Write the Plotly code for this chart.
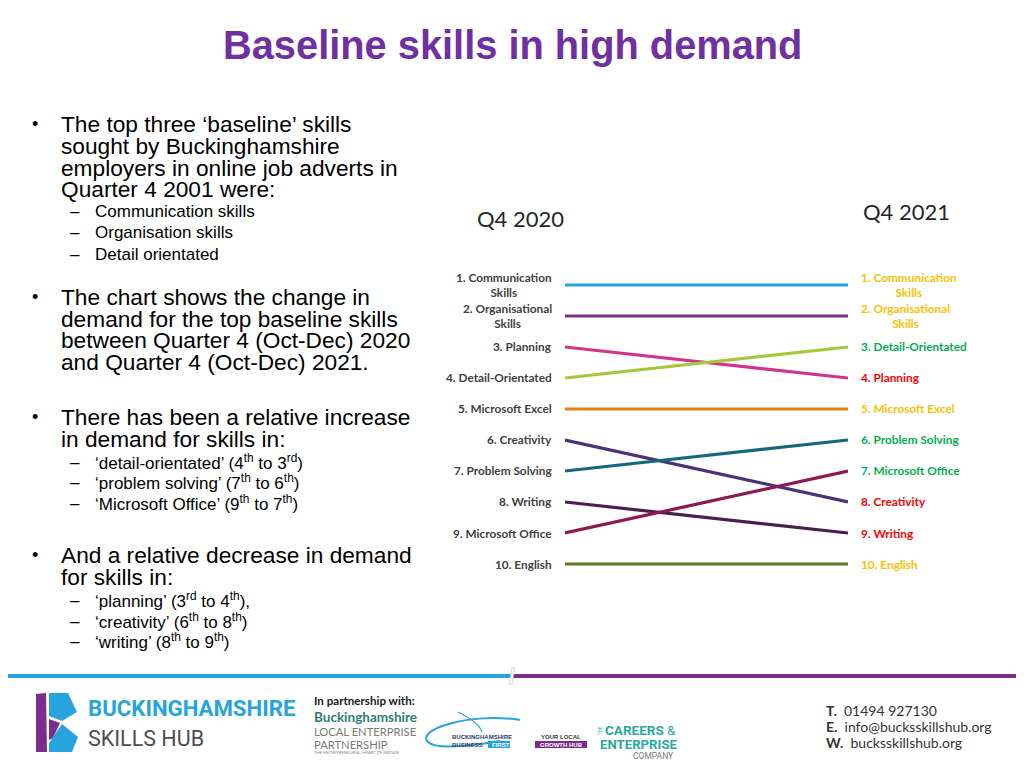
import plotly.graph_objects as go

# ---------------- data ----------------
skills = ["Communication Skills", "Organisational Skills", "Planning", "Detail-Orientated",
          "Microsoft Excel", "Creativity", "Problem Solving", "Writing",
          "Microsoft Office", "English"]
label_text = ["Communication<br>Skills", "Organisational<br>Skills", "Planning", "Detail-Orientated",
              "Microsoft Excel", "Creativity", "Problem Solving", "Writing",
              "Microsoft Office", "English"]
rank_2020 = [1, 2, 3, 4, 5, 6, 7, 8, 9, 10]
rank_2021 = [1, 2, 4, 3, 5, 8, 6, 9, 7, 10]
periods = ["Q4 2020", "Q4 2021"]
line_colors = ["#27A3DD", "#7B2C8C", "#D0348C", "#A3C83A", "#EE7D1B",
               "#4A3278", "#17667F", "#4A1E50", "#8A1A50", "#5E7A1E"]

# page body has an 8px margin, so the figure is sized to fit inside it
OFF = 8
W, H = 1024 - 2 * OFF, 768 - 2 * OFF
def px(x): return (x - OFF) / W
def py(y): return 1 - (y - OFF) / H

fig = go.Figure()

# slope lines
for name, r0, r1, c in zip(skills, rank_2020, rank_2021, line_colors):
    fig.add_trace(go.Scatter(x=[0, 1], y=[r0, r1], mode="lines", name=name,
                             line=dict(color=c, width=3.2), hoverinfo="name",
                             showlegend=False))

ann = []
LBL_FONT = "Lato"
LBL_SIZE = 11.8
# left labels (Q4 2020)
for lbl, r0 in zip(label_text, rank_2020):
    ann.append(dict(x=0, y=r0, xref="x", yref="y", text=f"<b>{r0}. {lbl}</b>",
                    xanchor="right", yanchor="middle", xshift=-11, align="center",
                    showarrow=False, font=dict(family=LBL_FONT, size=LBL_SIZE, color="#404040")))
# right labels (Q4 2021)
order_2021 = sorted(range(len(skills)), key=lambda i: rank_2021[i])
for i in order_2021:
    r0, r1 = rank_2020[i], rank_2021[i]
    col = "#FFC000" if r1 == r0 else ("#00B050" if r1 < r0 else "#FF0000")
    ann.append(dict(x=1, y=r1, xref="x", yref="y", text=f"<b>{r1}. {label_text[i]}</b>",
                    xanchor="left", yanchor="middle", xshift=11, align="center",
                    showarrow=False, font=dict(family=LBL_FONT, size=LBL_SIZE, color=col)))

# period headers
ann.append(dict(x=px(520), y=py(218), xref="paper", yref="paper", text=periods[0],
                showarrow=False, xanchor="center", yanchor="middle",
                font=dict(family=LBL_FONT, size=22, color="#262626")))
ann.append(dict(x=px(906), y=py(212), xref="paper", yref="paper", text=periods[1],
                showarrow=False, xanchor="center", yanchor="middle",
                font=dict(family=LBL_FONT, size=22, color="#262626")))

# title
ann.append(dict(x=px(512), y=py(45), xref="paper", yref="paper",
                text="<b>Baseline skills in high demand</b>", showarrow=False,
                xanchor="center", yanchor="middle",
                font=dict(family="Liberation Sans", size=39.8, color="#7030A0")))

# left text block
ARIAL = "Liberation Sans"
main_lines = [
    (124, "The top three ‘baseline’ skills", True),
    (146, "sought by Buckinghamshire", False),
    (168, "employers in online job adverts in", False),
    (189, "Quarter 4 2001 were:", False),
    (297, "The chart shows the change in", True),
    (319, "demand for the top baseline skills", False),
    (340, "between Quarter 4 (Oct-Dec) 2020", False),
    (362, "and Quarter 4 (Oct-Dec) 2021.", False),
    (417, "There has been a relative increase", True),
    (439, "in demand for skills in:", False),
    (555, "And a relative decrease in demand", True),
    (577, "for skills in:", False),
]
sub_lines = [
    (212, "Communication skills"),
    (233, "Organisation skills"),
    (254, "Detail orientated"),
    (462, "‘detail-orientated’ (4<sup>th</sup> to 3<sup>rd</sup>)"),
    (482, "‘problem solving’ (7<sup>th</sup> to 6<sup>th</sup>)"),
    (503, "‘Microsoft Office’ (9<sup>th</sup> to 7<sup>th</sup>)"),
    (600, "‘planning’ (3<sup>rd</sup> to 4<sup>th</sup>),"),
    (621, "‘creativity’ (6<sup>th</sup> to 8<sup>th</sup>)"),
    (641, "‘writing’ (8<sup>th</sup> to 9<sup>th</sup>)"),
]
for y, t, bullet in main_lines:
    ann.append(dict(x=px(59), y=py(y), xref="paper", yref="paper", text=t,
                    showarrow=False, xanchor="left", yanchor="middle",
                    font=dict(family=ARIAL, size=22.7, color="#000000")))
    if bullet:
        ann.append(dict(x=px(30), y=py(y), xref="paper", yref="paper", text="•",
                        showarrow=False, xanchor="left", yanchor="middle",
                        font=dict(family=ARIAL, size=18, color="#000000")))
for y, t in sub_lines:
    ann.append(dict(x=px(93), y=py(y), xref="paper", yref="paper", text=t,
                    showarrow=False, xanchor="left", yanchor="middle",
                    font=dict(family=ARIAL, size=17, color="#000000")))
    ann.append(dict(x=px(68), y=py(y), xref="paper", yref="paper", text="–",
                    showarrow=False, xanchor="left", yanchor="middle",
                    font=dict(family=ARIAL, size=17, color="#000000")))

# ---------------- footer ----------------
shapes = [
    dict(type="line", xref="paper", yref="paper", x0=px(0), x1=px(511), y0=py(676), y1=py(676),
         line=dict(color="#27A3DD", width=4)),
    dict(type="line", xref="paper", yref="paper", x0=px(511), x1=px(1024), y0=py(676), y1=py(676),
         line=dict(color="#7B2C8C", width=4)),
    dict(type="path", xref="paper", yref="paper",
         path=f"M {px(509)} {py(684)} L {px(512)} {py(668)} L {px(515)} {py(668)} L {px(512)} {py(684)} Z",
         fillcolor="white", line=dict(color="#bbbbbb", width=0.6)),
    # skills hub icon
    dict(type="path", xref="paper", yref="paper",
         path=f"M {px(36)} {py(694)} L {px(46)} {py(693)} L {px(47)} {py(752)} L {px(36)} {py(752)} Z",
         fillcolor="#7B2C8C", line=dict(width=0)),
    dict(type="path", xref="paper", yref="paper",
         path=f"M {px(49)} {py(693)} L {px(68)} {py(693)} L {px(77)} {py(712)} L {px(62)} {py(721)} L {px(49)} {py(716)} Z",
         fillcolor="#27A3DD", line=dict(width=0)),
    dict(type="path", xref="paper", yref="paper",
         path=f"M {px(49)} {py(719)} L {px(60)} {py(723)} L {px(53)} {py(738)} L {px(49)} {py(740)} Z",
         fillcolor="#7B2C8C", line=dict(width=0)),
    dict(type="path", xref="paper", yref="paper",
         path=f"M {px(62)} {py(724)} L {px(78)} {py(737)} L {px(72)} {py(752)} L {px(49)} {py(752)} L {px(49)} {py(743)} Z",
         fillcolor="#27A3DD", line=dict(width=0)),
    # business first swoosh
    dict(type="path", xref="paper", yref="paper",
         path=(f"M {px(520)} {py(720)} C {px(470)} {py(712)}, {px(415)} {py(730)}, {px(428)} {py(742)} "
               f"C {px(436)} {py(750)}, {px(470)} {py(746)}, {px(500)} {py(741)}"),
         line=dict(color="#27A3DD", width=2)),
    dict(type="path", xref="paper", yref="paper",
         path=f"M {px(458)} {py(712)} C {px(470)} {py(718)}, {px(480)} {py(725)}, {px(482)} {py(732)}",
         line=dict(color="#27A3DD", width=1.2)),
    dict(type="rect", xref="paper", yref="paper", x0=px(488), x1=px(510), y0=py(748), y1=py(741),
         fillcolor="#27A3DD", line=dict(width=0)),
    # growth hub box
    dict(type="rect", xref="paper", yref="paper", x0=px(535), x1=px(587), y0=py(748), y1=py(741),
         fillcolor="#7B2C8C", line=dict(width=0)),
]

def foot(x, y, t, size, color, family="Roboto", anchor="left", angle=0):
    ann.append(dict(x=px(x), y=py(y), xref="paper", yref="paper", text=t, showarrow=False,
                    xanchor=anchor, yanchor="middle", textangle=angle,
                    font=dict(family=family, size=size, color=color)))

foot(86, 708, "<b>BUCKINGHAMSHIRE</b>", 22.2, "#27A3DD", "Roboto")
foot(86, 738, "SKILLS HUB", 21.5, "#4d4d4d", "Roboto")
foot(312, 700, "<b>In partnership with:</b>", 11.6, "#1a1a1a", "Lato")
foot(312, 717, "<b>Buckinghamshire</b>", 13.5, "#2E7D7A", "Lato")
foot(312, 731, "LOCAL ENTERPRISE", 11.2, "#777777", "Lato")
foot(312, 744, "PARTNERSHIP", 11.2, "#777777", "Lato")
foot(312, 752.5, "THE ENTREPRENEURIAL HEART OF BRITAIN", 4.2, "#888888", "Lato")
foot(450, 737, "<b>BUCKINGHAMSHIRE</b>", 6, "#1F3A6E", "Liberation Sans")
foot(450, 744.5, "<b>BUSINESS</b>", 6, "#1F3A6E", "Liberation Sans")
foot(490, 744.5, "<b>FIRST</b>", 6, "#ffffff", "Liberation Sans")
foot(561, 737, "<b>YOUR LOCAL</b>", 6, "#333333", "Liberation Sans", anchor="center")
foot(561, 744.5, "<b>GROWTH HUB</b>", 6, "#ffffff", "Liberation Sans", anchor="center")
foot(600, 731, "THE", 4.5, "#2BA89E", "Roboto", anchor="center", angle=-90)
foot(603, 730, "<b>CAREERS</b> &", 13.5, "#2BA89E", "Roboto")
foot(598, 744, "<b>ENTERPRISE</b>", 13.2, "#2BA89E", "Roboto")
foot(676, 756, "COMPANY", 8.5, "#777777", "Roboto", anchor="right")
foot(824, 710, "<b>T.</b>  01494 927130", 14, "#333333", "Lato")
foot(824, 726, "<b>E.</b>  info@bucksskillshub.org", 14, "#333333", "Lato")
foot(824, 742, "<b>W.</b>  bucksskillshub.org", 14, "#333333", "Lato")

# axes positioned so the slope chart sits at the reference location
# (half a rank of padding so the outer lines are not clipped)
x0p, x1p = 565, 848
step = 31.0
y_top, y_bot = 285 - step / 2, 564 + step / 2
fig.update_layout(
    width=W, height=H, autosize=False,
    margin=dict(l=0, r=0, t=0, b=0),
    paper_bgcolor="white", plot_bgcolor="white",
    xaxis=dict(domain=[px(x0p), px(x1p)], range=[0, 1], visible=False, fixedrange=True),
    yaxis=dict(domain=[py(y_bot), py(y_top)], range=[10.5, 0.5], visible=False, fixedrange=True),
    annotations=ann, shapes=shapes, showlegend=False,
)

fig.write_html("out.html")
